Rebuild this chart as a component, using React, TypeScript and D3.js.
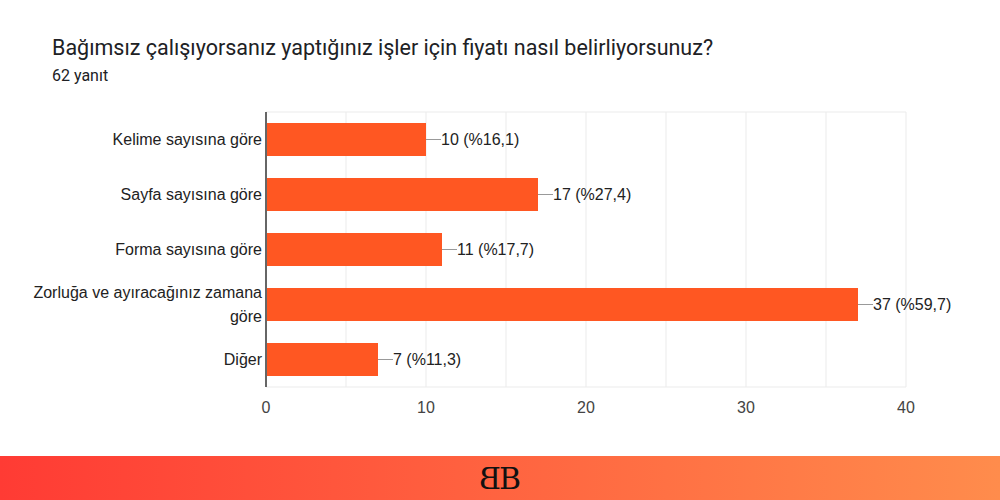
import * as d3 from 'd3';

const categories = [
  ['Kelime sayısına göre'],
  ['Sayfa sayısına göre'],
  ['Forma sayısına göre'],
  ['Zorluğa ve ayıracağınız zamana', 'göre'],
  ['Diğer'],
];
const counts = [10, 17, 11, 37, 7];
const percents = ['16,1', '27,4', '17,7', '59,7', '11,3'];
const xTicks = [0, 10, 20, 30, 40];
const gridTicks = [0, 5, 10, 15, 20, 25, 30, 35, 40];

const W = 1000;
const H = 500;
const TITLE_FONT = 'Roboto, Arial, sans-serif';
const FONT = "'Liberation Sans', Arial, sans-serif";

export default function App() {
  const left = 266;
  const right = 906;
  const top = 112;
  const bottom = 387;

  const x = d3.scaleLinear().domain([0, 40]).range([left, right]);
  const y = d3
    .scaleBand<number>()
    .domain(d3.range(counts.length))
    .range([top, bottom])
    .paddingInner(0.4)
    .paddingOuter(0.2);

  return (
    <svg
      width={W}
      height={H}
      style={{ position: 'fixed', left: 0, top: 0, background: '#fff' }}
      fontFamily={FONT}
    >
      <defs>
        <linearGradient id="footer" x1="0" x2="1" y1="0" y2="0">
          <stop offset="0%" stopColor="#ff3b34" />
          <stop offset="100%" stopColor="#ff8c4c" />
        </linearGradient>
        <text id="logoB" x={0} y={0} fontFamily="'DejaVu Serif', serif" fontSize={30} fill="#111">
          B
        </text>
      </defs>
      <rect width={W} height={H} fill="#fff" />

      {/* title */}
      <text x={52} y={55} fontSize={21.5} fill="#202124" fontFamily={TITLE_FONT}>
        Bağımsız çalışıyorsanız yaptığınız işler için fiyatı nasıl belirliyorsunuz?
      </text>
      <text x={52} y={81} fontSize={16} fill="#202124" fontFamily={TITLE_FONT}>
        62 yanıt
      </text>

      {/* grid */}
      {gridTicks.map((t) => (
        <line
          key={t}
          x1={x(t)}
          x2={x(t)}
          y1={top}
          y2={bottom}
          stroke="#ebebeb"
          strokeWidth={1}
        />
      ))}
      <line x1={left} x2={right} y1={top} y2={top} stroke="#ebebeb" />
      <line x1={left} x2={right} y1={bottom} y2={bottom} stroke="#ebebeb" />

      {/* bars */}
      {counts.map((c, i) => {
        const by = y(i)!;
        const bh = y.bandwidth();
        const cy = by + bh / 2;
        return (
          <g key={i}>
            <rect x={x(0)} y={by} width={x(c) - x(0)} height={bh} fill="#ff5722" />
            <line x1={x(c)} x2={x(c) + 15} y1={cy} y2={cy} stroke="#999" strokeWidth={1} />
            <text x={x(c) + 15} y={cy} dy="0.35em" fontSize={16} fill="#222">
              {`${c} (%${percents[i]})`}
            </text>
            <text x={left - 4} y={cy} textAnchor="end" fontSize={16} fill="#222">
              {categories[i].map((line, j) => (
                <tspan
                  key={j}
                  x={left - 4}
                  dy={
                    j === 0
                      ? `${0.35 - ((categories[i].length - 1) * 1.5) / 2}em`
                      : '1.5em'
                  }
                >
                  {line}
                </tspan>
              ))}
            </text>
          </g>
        );
      })}

      {/* axis line */}
      <line x1={left} x2={left} y1={top} y2={bottom} stroke="#666" strokeWidth={2} />

      {/* x tick labels */}
      {xTicks.map((t) => (
        <text key={t} x={x(t)} y={413} textAnchor="middle" fontSize={16} fill="#444">
          {t}
        </text>
      ))}

      {/* footer */}
      <rect x={0} y={456} width={W} height={H - 456} fill="url(#footer)" />
      <g transform="translate(500,489)">
        <use href="#logoB" transform="translate(1,0) scale(-1,1)" />
        <use href="#logoB" transform="translate(-1,0)" />
      </g>
    </svg>
  );
}
